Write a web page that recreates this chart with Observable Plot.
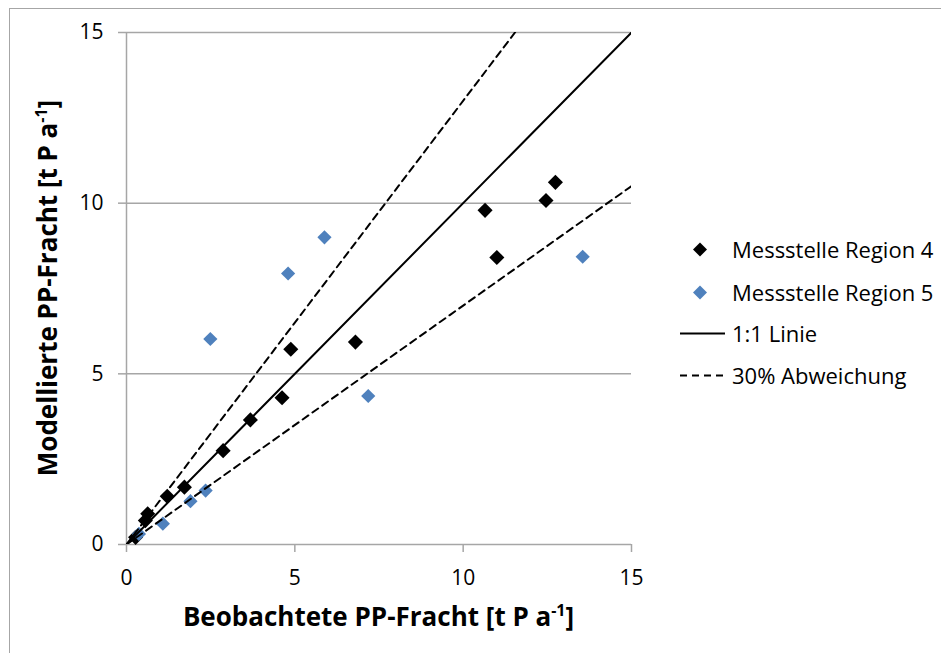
<!DOCTYPE html>
<html>
<head>
<meta charset="utf-8">
<script src="https://cdn.jsdelivr.net/npm/d3@7"></script>
<script src="https://cdn.jsdelivr.net/npm/@observablehq/plot@0.6"></script>
<style>
  body { margin: 0; background: #fff; }
  #wrap { position: relative; width: 941px; height: 653px; overflow: hidden; font-family: "Open Sans", sans-serif; }
  #frameTop { position: absolute; left: 9px; top: 8px; width: 940px; height: 0; border-top: 1.5px solid #a6a6a6; }
  #frameLeft { position: absolute; left: 9px; top: 8px; width: 0; height: 660px; border-left: 1.5px solid #a6a6a6; }
  #legend { position: absolute; left: 680px; top: 230px; font-size: 22px; color: #000; }
  .item { position: absolute; left: 0; height: 30px; display: flex; align-items: center; white-space: nowrap; }
  .item svg { width: 52px; height: 30px; flex: none; }
</style>
</head>
<body>
<div id="wrap">
  <div id="frameTop"></div>
  <div id="frameLeft"></div>
  <div id="chart"></div>
  <div id="legend"></div>
</div>
<script>
// ---- data ----
const region4X = [0.27, 0.56, 0.63, 1.21, 1.72, 2.87, 3.68, 4.62, 4.88, 6.80, 10.65, 11.00, 12.46, 12.74];
const region4Y = [0.21, 0.70, 0.90, 1.41, 1.68, 2.75, 3.65, 4.30, 5.72, 5.93, 9.79, 8.41, 10.08, 10.61];
const region5X = [0.37, 1.08, 1.90, 2.35, 2.49, 4.80, 5.88, 7.18, 13.55];
const region5Y = [0.31, 0.61, 1.27, 1.58, 6.02, 7.94, 9.00, 4.35, 8.43];
const xTicks = [0, 5, 10, 15];
const yTicks = [0, 5, 10, 15];
const lineFactors = [1.0, 1.3, 0.7];          // 1:1 line and ±30% deviation
const lineNames = ["1:1 Linie", "30% Abweichung", "30% Abweichung"];
const seriesNames = ["Messstelle Region 4", "Messstelle Region 5"];
const seriesColors = ["#000000", "#4f81bd"];
const xTitle = "Beobachtete PP-Fracht [t P a";
const yTitle = "Modellierte PP-Fracht [t P a";

const domain = [0, 15];
const pts4 = region4X.map((x, i) => ({x, y: region4Y[i]}));
const pts5 = region5X.map((x, i) => ({x, y: region5Y[i]}));
const lineData = lineFactors.flatMap((f, k) => domain.map(x => ({x, y: x * f, k, name: lineNames[k]})));

const gray = "#a6a6a6";
const dash = "7,5";
const chart = Plot.plot({
  width: 941, height: 653,
  marginLeft: 126, marginRight: 310, marginTop: 32, marginBottom: 109,
  x: {domain, ticks: xTicks},
  y: {domain, ticks: yTicks},
  style: {fontFamily: "Open Sans, sans-serif", fontSize: "21px", color: "#000", background: "transparent", overflow: "visible"},
  marks: [
    Plot.gridY(yTicks.filter(d => d > 0), {stroke: gray, strokeOpacity: 1, strokeWidth: 1.5}),
    Plot.ruleX([0], {stroke: gray, strokeWidth: 1.5}),
    Plot.ruleY([0], {stroke: gray, strokeWidth: 1.5}),
    Plot.axisX({ticks: xTicks, tickSize: 8, tickPadding: 18, stroke: gray, strokeWidth: 1.5, fill: "#000", label: null}),
    Plot.axisY({ticks: yTicks, tickSize: 8, tickPadding: 15, stroke: gray, strokeWidth: 1.5, fill: "#000", label: null}),
    Plot.dot(pts4, {x: "x", y: "y", symbol: "diamond2", r: 6.8, fill: seriesColors[0], stroke: "none"}),
    Plot.dot(pts5, {x: "x", y: "y", symbol: "diamond2", r: 6.4, fill: seriesColors[1], stroke: "none"}),
    Plot.line(lineData.filter(d => d.k === 0), {x: "x", y: "y", stroke: "#000", strokeWidth: 2, clip: true}),
    Plot.line(lineData.filter(d => d.k > 0), {x: "x", y: "y", z: "k", stroke: "#000", strokeWidth: 2, strokeDasharray: dash, clip: true})
  ]
});
document.getElementById("chart").appendChild(chart);

// axis titles with superscript
const svg = d3.select(chart);
function title(txt, x, y, rot) {
  const t = svg.append("text")
    .attr("transform", `translate(${x},${y}) rotate(${rot})`)
    .attr("text-anchor", "middle")
    .attr("font-family", "Open Sans, sans-serif")
    .attr("font-weight", "bold")
    .attr("font-size", 26)
    .attr("fill", "#000")
    .attr("dy", "0.35em");
  t.append("tspan").text(txt);
  t.append("tspan").attr("font-size", 16).attr("dy", "-0.65em").text("-1");
  t.append("tspan").attr("dy", "0.4em").text("]");
}
title(xTitle, 378.5, 617, 0);
title(yTitle, 48, 288, -90);

// legend
const legend = d3.select("#legend");
const rows = [
  {name: seriesNames[0], type: "dot", color: seriesColors[0], top: 4},
  {name: seriesNames[1], type: "dot", color: seriesColors[1], top: 47},
  {name: lineNames[0], type: "solid", top: 88},
  {name: lineNames[1], type: "dash", top: 130}
];
rows.forEach(r => {
  const item = legend.append("div").attr("class", "item").style("top", r.top + "px");
  const s = item.append("svg");
  if (r.type === "dot") {
    s.append("path").attr("d", "M20,8.5L27,15.5L20,22.5L13,15.5Z").attr("fill", r.color);
  } else {
    s.append("line").attr("x1", 0).attr("x2", 45).attr("y1", 15.5).attr("y2", 15.5)
      .attr("stroke", "#000").attr("stroke-width", 2)
      .attr("stroke-dasharray", r.type === "dash" ? dash : null);
  }
  item.append("span").text(r.name);
});
</script>
</body>
</html>
